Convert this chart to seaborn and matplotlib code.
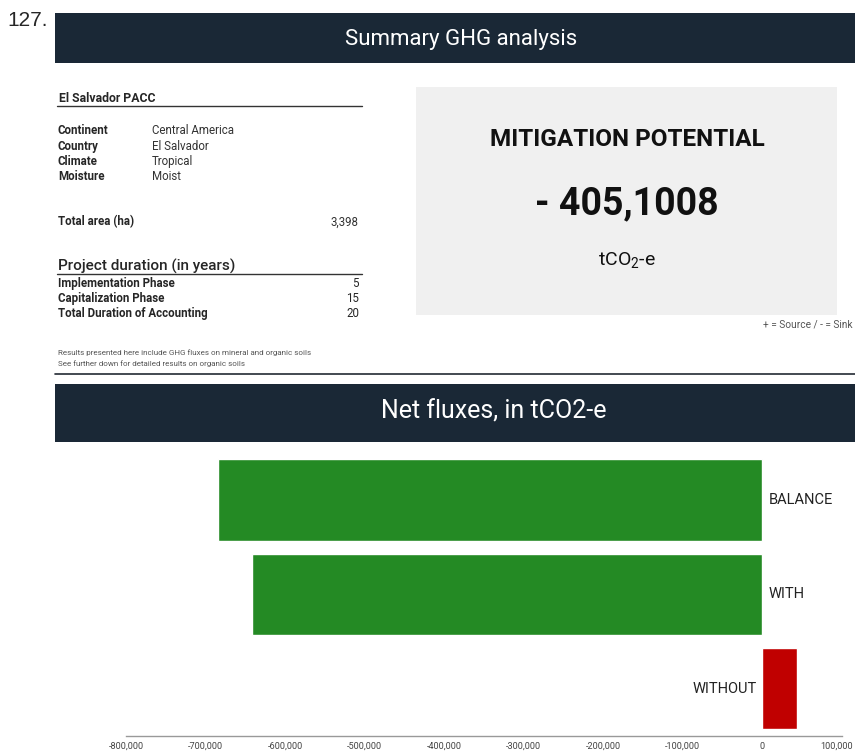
import numpy as np
import pandas as pd
import matplotlib
matplotlib.use("Agg")
import matplotlib.pyplot as plt
from matplotlib.patches import Rectangle
from matplotlib.transforms import ScaledTranslation
import seaborn as sns

# chart data
categories = ["BALANCE", "WITH", "WITHOUT"]
net_flux = [-684000, -641000, 43600]
bar_colors = ["#248a24", "#248a24", "#c00000"]
x_ticks = [-800000, -700000, -600000, -500000, -400000, -300000, -200000, -100000, 0, 100000]

# summary panel texts
info_labels = ["Continent", "Country", "Climate", "Moisture"]
info_values = ["Central America", "El Salvador", "Tropical", "Moist"]
phase_labels = ["Implementation Phase", "Capitalization Phase", "Total Duration of Accounting"]
phase_years = ["5", "15", "20"]
total_area = "3,398"
mitigation = "- 405,1008"

sns.set_style("white")
plt.rcParams["font.family"] = ["Roboto", "DejaVu Sans"]
plt.rcParams["mathtext.default"] = "regular"

W, H = 855, 756
fig = plt.figure(figsize=(W / 100, H / 100), dpi=100)
navy = "#1a2836"


def fx(x):
    return x / W


def fy(y):
    return 1 - y / H


def ftext(x, y, s, **kw):
    fig.text(fx(x), fy(y), s, va="center", **kw)


def hline(x0, x1, y, color="#333333", lw=1.0):
    fig.add_artist(plt.Line2D([fx(x0), fx(x1)], [fy(y), fy(y)], color=color, lw=lw,
                              transform=fig.transFigure))


def box(x0, y0, x1, y1, color):
    fig.add_artist(Rectangle((fx(x0), fy(y1)), fx(x1) - fx(x0), fy(y0) - fy(y1),
                             transform=fig.transFigure, facecolor=color, edgecolor="none"))


# page number
fig.text(fx(7), fy(21), "127.", va="center", ha="left", fontsize=15, family="Liberation Sans")

# header bands
box(55, 13, 855, 63, navy)
ftext(461, 39, "Summary GHG analysis", ha="center", color="white", fontsize=16)
box(55, 384, 855, 442, navy)
ftext(494, 412, "Net fluxes, in tCO2-e", ha="center", color="white", fontsize=18)

# left info panel
ftext(59, 98, "El Salvador PACC", fontsize=8.8, fontweight="bold")
hline(57, 362, 106, lw=1.0)
for i, (lab, val) in enumerate(zip(info_labels, info_values)):
    y = 131 + i * 15.3
    ftext(58, y, lab, fontsize=8.3, fontweight="bold")
    ftext(152, y, val, fontsize=8.3, color="#333333")
ftext(58, 222, "Total area (ha)", fontsize=8.3, fontweight="bold")
ftext(358, 222, total_area, fontsize=8.3, ha="right", color="#333333")

ftext(58, 266, "Project duration (in years)", fontsize=11, fontweight="medium")
hline(57, 362, 274, lw=1.0)
for i, (lab, val) in enumerate(zip(phase_labels, phase_years)):
    y = 283.5 + i * 15
    ftext(58, y, lab, fontsize=8.3, fontweight="bold")
    ftext(359, y, val, fontsize=8.3, ha="right")
ftext(58, 353, "Results presented here include GHG fluxes on mineral and organic soils", fontsize=5.8, color="#555555")
ftext(58, 363.5, "See further down for detailed results on organic soils", fontsize=5.8, color="#555555")
hline(55, 855, 373.5, color="#222a33", lw=1.2)

# mitigation box
box(416, 87, 837, 315, "#f0f0f0")
ftext(627, 140, "MITIGATION POTENTIAL", ha="center", fontsize=17.5, fontweight="bold", color="#111111")
ftext(627, 204, mitigation, ha="center", fontsize=27, fontweight="bold", color="#111111")
ftext(627, 260, "tCO$_2$-e", ha="center", fontsize=14, color="#111111")
ftext(852, 325, "+ = Source / - = Sink", ha="right", fontsize=7.3, color="#555555")

# net fluxes bar chart
ax = fig.add_axes([fx(126), fy(736), fx(842) - fx(126), fy(452.75) - fy(736)])
df = pd.DataFrame({"scenario": categories, "flux": net_flux})
sns.barplot(data=df, x="flux", y="scenario", hue="scenario", palette=bar_colors,
            width=0.86, legend=False, ax=ax, saturation=1)
ax.set_xlim(x_ticks[0], x_ticks[-1])
ax.set_ylim(2.5, -0.5)
ax.set_xticks(x_ticks)
ax.set_xticklabels([f"{t:,.0f}" for t in x_ticks], fontsize=6.6, color="#444444")
ax.tick_params(axis="x", direction="in", length=3, color="#999999", pad=4)
ax.set_yticks([])
ax.set_xlabel("")
ax.set_ylabel("")
for s in ["top", "left", "right"]:
    ax.spines[s].set_visible(False)
ax.spines["bottom"].set_color("#999999")
ax.spines["bottom"].set_linewidth(1)

# keep the last tick label inside the page
last = ax.get_xticklabels()[-1]
last.set_transform(last.get_transform() + ScaledTranslation(-0.05, 0, fig.dpi_scale_trans))

for i, (cat, v) in enumerate(zip(categories, net_flux)):
    if v < 0:
        ax.annotate(cat, (0, i), xytext=(4.5, 0), textcoords="offset points",
                    ha="left", va="center", fontsize=10.5, color="#222222")
    else:
        ax.annotate(cat, (0, i), xytext=(-4, 0), textcoords="offset points",
                    ha="right", va="center", fontsize=10.5, color="#222222")

fig.savefig("out.png", dpi=100)
